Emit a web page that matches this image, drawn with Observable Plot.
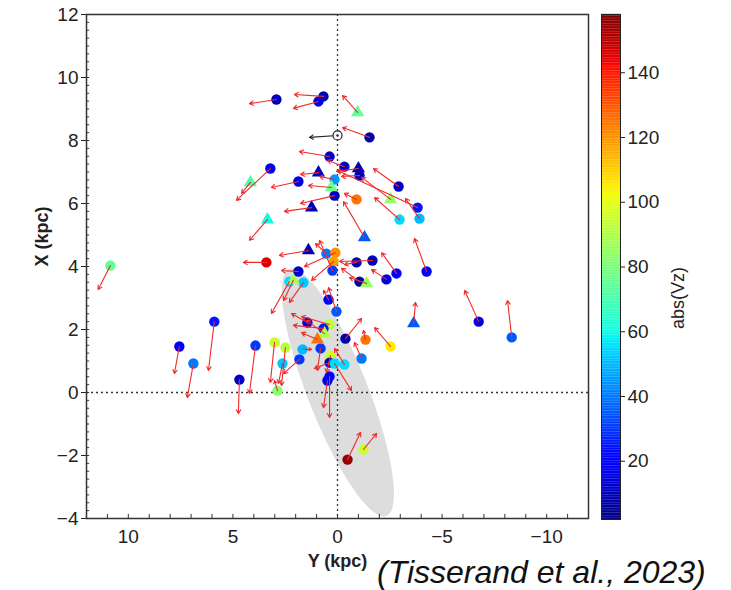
<!DOCTYPE html>
<html><head><meta charset="utf-8">
<script src="https://cdn.jsdelivr.net/npm/d3@7"></script>
<script src="https://cdn.jsdelivr.net/npm/@observablehq/plot@0.6"></script>
<style>
body{margin:0;background:#fff;font-family:"Liberation Sans",Arial,sans-serif;}
#wrap{position:relative;width:731px;height:590px;overflow:hidden;background:#fff}
#main{position:absolute;left:0;top:0}
#cbar{position:absolute;left:592px;top:0}
#topline{position:absolute;left:80px;top:3px;width:608px;height:2px;background:#ececec}
#caption{position:absolute;left:377px;top:556px;font-style:italic;font-size:32px;line-height:32px;color:#111;white-space:nowrap}
</style></head><body>
<div id="wrap"><div id="topline"></div><div id="main"></div><div id="cbar"></div><div id="caption">(Tisserand et al., 2023)</div></div>
<script>
// Star positions (Y kpc, X kpc), arrow tips, |Vz| and marker type
const posY = [2.92,0.67,0.91,-0.96,-1.53,0.38,-0.33,-1.00,-1.05,-2.92,0.91,3.21,4.16,1.87,0.14,0.29,0.14,-0.91,-2.54,-3.83,-3.92,-2.97,-1.29,1.24,3.35,10.86,1.39,0.53,0.10,0.19,0.24,3.40,1.87,2.30,2.11,1.63,0.43,0.05,1.44,0.38,0.67,0.62,0.96,0.81,1.67,1.82,0.33,0.38,0.14,5.89,7.56,6.89,3.92,3.01,2.49,2.63,2.87,4.69,0.48,0.38,-3.64,-0.38,-1.34,-2.54,-1.15,-0.33,-6.75,-8.33,-0.48,-1.24,-1.67,-0.91,-2.82,-4.26,-2.34,-1.05,-1.39];
const posX = [9.30,9.40,9.24,8.89,8.10,7.49,7.17,7.11,6.89,6.54,6.98,7.11,6.67,6.70,6.76,6.51,6.25,6.13,6.13,5.87,5.52,5.49,4.92,5.87,5.49,4.03,4.51,4.41,4.44,4.16,3.87,4.13,3.84,3.52,3.56,3.49,2.95,2.57,2.22,2.16,2.03,1.87,1.68,1.40,1.37,1.05,1.17,0.95,0.92,2.25,1.46,0.92,1.49,1.59,1.43,0.92,0.06,0.41,0.38,0.51,2.19,1.71,1.68,1.46,1.08,0.89,2.25,1.75,-2.13,-1.81,4.19,4.13,3.78,3.84,3.59,3.52,3.46];
const tipY = [4.21,2.06,2.11,-0.24,-0.24,1.82,0.48,0.05,-0.19,-1.72,1.77,4.83,4.59,3.16,0.86,1.39,1.77,-0.33,-1.15,0.00,-3.25,-1.77,-0.29,2.54,4.21,11.44,2.78,1.05,1.58,1.24,0.86,4.50,2.68,3.16,2.58,2.30,0.67,0.43,2.20,1.72,2.11,1.48,1.72,0.96,1.24,2.58,0.53,1.10,-0.67,6.17,7.80,7.18,4.21,3.21,2.68,2.82,3.01,4.74,0.67,0.38,-3.73,-1.15,-1.24,-1.77,-0.81,0.14,-6.08,-8.13,-1.10,-1.87,-0.10,-0.33,-2.11,-3.68,-1.63,-0.19,-0.57];
const tipX = [9.17,9.46,9.02,9.43,8.41,7.65,7.37,7.02,6.86,7.11,6.92,6.10,6.32,6.51,6.86,6.57,6.00,6.32,6.83,7.05,6.16,6.19,6.06,5.75,4.83,3.27,4.35,4.73,4.00,3.56,4.83,4.13,3.87,2.51,2.92,2.86,3.24,3.33,2.51,2.41,2.13,2.29,1.90,0.70,1.37,0.60,0.63,0.76,0.06,0.70,0.60,-0.16,-0.03,0.32,0.22,0.29,0.38,-0.67,-0.48,-0.79,2.86,2.35,1.97,2.06,1.59,1.40,3.24,2.92,-1.27,-1.30,4.16,4.06,4.44,4.89,3.90,3.94,3.65];
const absVz = [10,8,15,75,8,12,10,10,10,12,10,20,72,15,45,78,10,125,85,25,50,55,35,10,60,75,10,40,120,118,30,145,12,55,88,52,20,35,15,92,25,90,125,30,50,30,95,10,55,25,20,40,30,95,92,52,82,12,15,20,35,8,125,105,40,55,15,35,155,95,10,10,20,20,15,5,85];
const marker = ["circle","circle","circle","triangle","circle","circle","circle","triangle","circle","circle","triangle","circle","triangle","circle","circle","triangle","circle","circle","triangle","circle","circle","circle","triangle","triangle","triangle","circle","triangle","circle","circle","circle","circle","circle","circle","circle","triangle","circle","circle","circle","circle","circle","circle","triangle","triangle","circle","circle","circle","circle","circle","circle","circle","circle","circle","circle","circle","circle","circle","circle","circle","circle","circle","triangle","circle","circle","circle","circle","circle","circle","circle","circle","circle","circle","circle","circle","circle","circle","circle","triangle"];

// Sun position and its motion arrow
const sunY = [0.00], sunX = [8.16], sunTipY = [1.34], sunTipX = [8.10];

// Grey ellipse (centre, half major axis vector, half minor axis vector) in (Y, X) kpc
const ellipseCenter = [-0.02, 0.00];
const ellipseMajor = [2.32, 3.92];
const ellipseMinor = [-1.34, 0.35];

// Ticks
const xTicks = [10, 5, 0, -5, -10];
const yTicks = [-4, -2, 0, 2, 4, 6, 8, 10, 12];
const cbTicks = [20, 40, 60, 80, 100, 120, 140];
const vzDomain = [2, 158];

// matplotlib "jet"
const R=[[0,0],[0.35,0],[0.66,1],[0.89,1],[1,0.5]];
const G=[[0,0],[0.125,0],[0.375,1],[0.64,1],[0.91,0],[1,0]];
const B=[[0,0.5],[0.11,1],[0.34,1],[0.65,0],[1,0]];
function seg(p,t){for(let i=1;i<p.length;i++){if(t<=p[i][0]){const [t0,v0]=p[i-1],[t1,v1]=p[i];return v0+(v1-v0)*(t-t0)/(t1-t0);}}return p[p.length-1][1];}
function jet(t){t=Math.max(0,Math.min(1,t));return d3.rgb(255*seg(R,t),255*seg(G,t),255*seg(B,t)).formatHex();}

const stars = posY.map((y,i)=>({Y:y, X:posX[i], tY:tipY[i], tX:tipX[i], vz:absVz[i], m:marker[i]}));
const sun = sunY.map((y,i)=>({Y:y, X:sunX[i], tY:sunTipY[i], tX:sunTipX[i]}));
const ellipsePts = d3.range(0, 361, 3).map(a=>{const t=a*Math.PI/180;return {Y:ellipseCenter[0]+ellipseMajor[0]*Math.cos(t)+ellipseMinor[0]*Math.sin(t), X:ellipseCenter[1]+ellipseMajor[1]*Math.cos(t)+ellipseMinor[1]*Math.sin(t)};});

const fmt = d => d < 0 ? "\u2212" + Math.abs(d) : String(d);
const colorOpts = {type:"linear", domain:vzDomain, interpolate: jet};
const font = "Liberation Sans, Arial, sans-serif";

const main = Plot.plot({
  width:731, height:590, marginLeft:86, marginRight:143, marginTop:14, marginBottom:72,
  style:{fontFamily:font, background:"white", color:"#222"},
  x:{domain:[12,-12], axis:null},
  y:{domain:[-4,12], axis:null},
  color: colorOpts,
  marks:[
    Plot.line(ellipsePts, {x:"Y", y:"X", fill:"#dddddd", stroke:"none"}),
    Plot.ruleX([0], {stroke:"#333", strokeDasharray:"2,3", strokeWidth:1.3}),
    Plot.ruleY([0], {stroke:"#333", strokeDasharray:"2,3", strokeWidth:1.3}),
    Plot.dot(stars.filter(d=>d.m==="circle"), {x:"Y", y:"X", fill:"vz", r:5.2, symbol:"circle"}),
    Plot.dot(stars.filter(d=>d.m==="triangle"), {x:"Y", y:"X", fill:"vz", r:4.9, symbol:"triangle"}),
    Plot.arrow(stars, {x1:"Y", y1:"X", x2:"tY", y2:"tX", stroke:"#f02a2a", strokeWidth:1.1, headLength:6}),
    Plot.arrow(sun, {x1:"Y", y1:"X", x2:"tY", y2:"tX", stroke:"#222", strokeWidth:1.1, headLength:6}),
    Plot.dot(sun, {x:"Y", y:"X", r:4.5, stroke:"#222", strokeWidth:1.2, fill:"white"}),
    Plot.dot(sun, {x:"Y", y:"X", r:1.2, fill:"#222"}),
    Plot.ruleY(d3.range(-4, 12.01, 0.25), {y:d=>d, x1:12, x2:11.85, stroke:"#333"}),
    Plot.ruleX(d3.range(-12, 12.01, 1), {x:d=>d, y1:-4, y2:-3.87, stroke:"#333"}),
    Plot.axisY({ticks:yTicks, anchor:"left", tickSize:5, tickPadding:3, fontSize:19, tickFormat:fmt, label:null}),
    Plot.axisX({ticks:xTicks, anchor:"bottom", tickSize:0, tickPadding:11, fontSize:19, tickFormat:fmt, label:null}),
    Plot.frame({stroke:"#333", strokeWidth:1.5}),
    Plot.text(["X (kpc)"], {text:d=>d, frameAnchor:"left", dx:-44, rotate:-90, fontSize:18, fontWeight:"bold", fill:"#222"}),
    Plot.text(["Y (kpc)"], {text:d=>d, frameAnchor:"bottom", dy:48, fontSize:18, fontWeight:"bold", fill:"#222"})
  ]
});
document.getElementById("main").appendChild(main);

const cbSteps = d3.range(vzDomain[0], vzDomain[1], 0.5);
const cbar = Plot.plot({
  width:139, height:590, marginLeft:9, marginRight:111, marginTop:14, marginBottom:71,
  style:{fontFamily:font, background:"transparent", color:"#222"},
  x:{domain:[0,1], axis:null},
  y:{domain:vzDomain, axis:null},
  color: colorOpts,
  marks:[
    Plot.rect(cbSteps, {x1:0, x2:1, y1:d=>d, y2:d=>d+0.55, fill:d=>d+0.25}),
    Plot.frame({stroke:"#222"}),
    Plot.axisY({ticks:cbTicks, anchor:"right", tickSize:4, tickPadding:3, fontSize:19, label:null}),
    Plot.text(["abs(Vz)"], {text:d=>d, frameAnchor:"right", dx:58, rotate:-90, fontSize:18, fill:"#222"})
  ]
});
document.getElementById("cbar").appendChild(cbar);
</script>
</body></html>
